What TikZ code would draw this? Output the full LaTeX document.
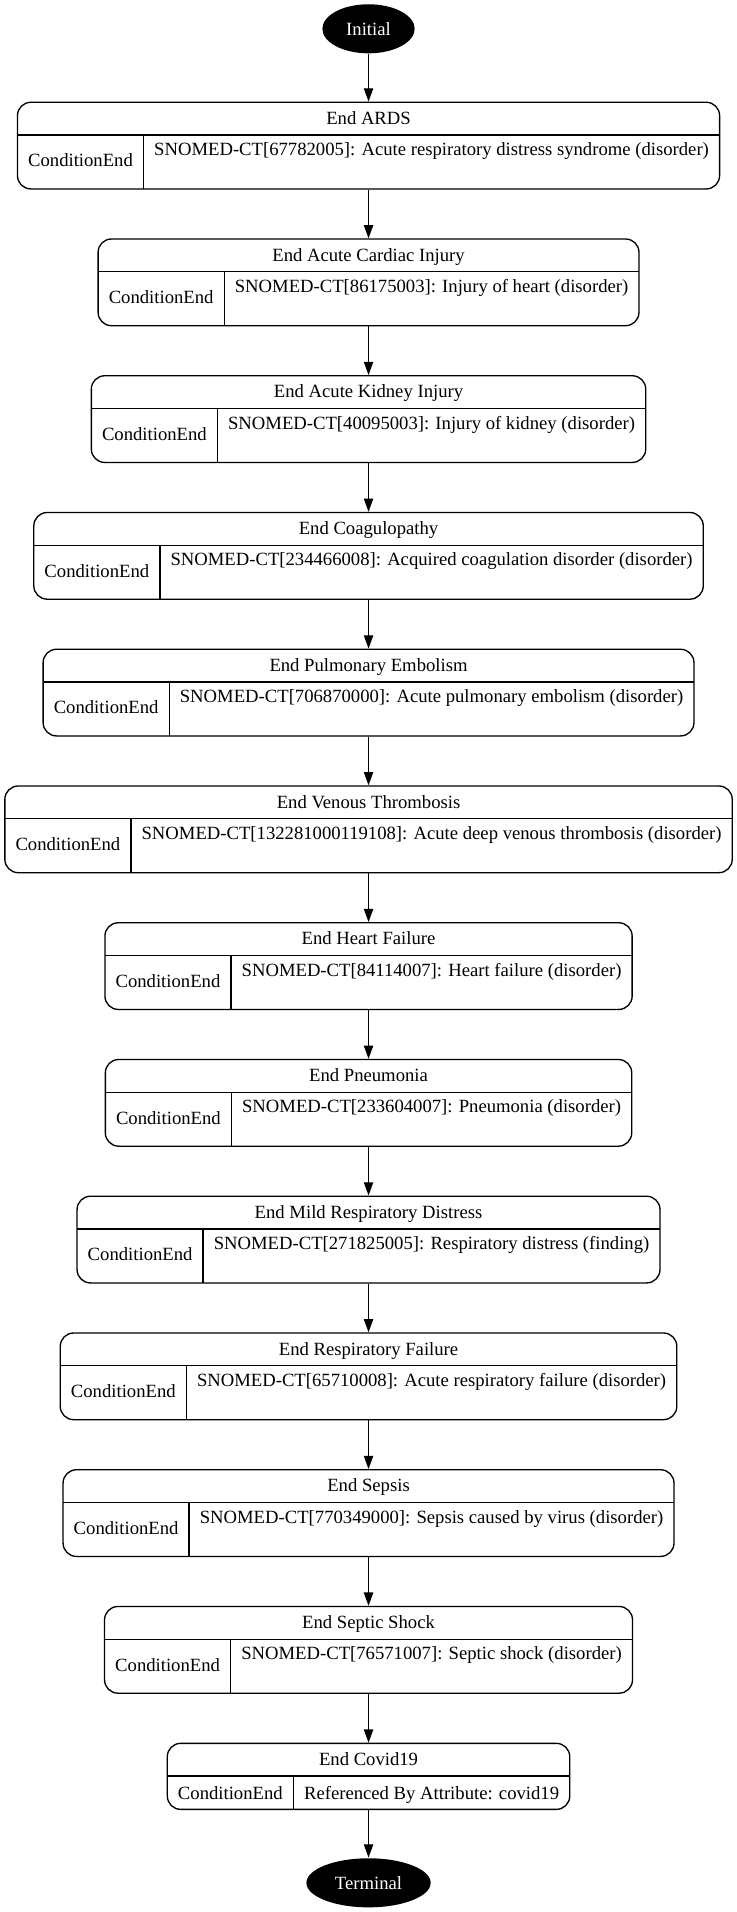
\documentclass[tikz,border=0pt]{standalone}
\usepackage{fontspec}
\setmainfont{Liberation Serif}
\usetikzlibrary{shapes.geometric, arrows.meta, positioning, fit, matrix}

\begin{document}
\begin{tikzpicture}[x=1pt, y=1pt, line width=1pt,
    font=\fontsize{14}{16.8}\selectfont,
    pseudo/.style={ellipse, fill=black, text=white, minimum height=36.8pt, inner sep=0pt},
    hdr/.style={anchor=south, outer sep=0pt, inner xsep=8pt, inner ysep=0pt, text height=16.5pt, text depth=8pt},
    lcell/.style={anchor=center, outer sep=0pt, inner xsep=8pt, inner ysep=0pt, text height=24pt, text depth=16.5pt},
    rcell/.style={anchor=center, outer sep=0pt, inner xsep=8pt, inner ysep=0pt, text height=15.5pt, text depth=25pt},
    flat/.style={text height=17.5pt, text depth=7.5pt},
    cellrow/.style={anchor=north, inner sep=0pt, outer sep=0pt, column sep=0pt, ampersand replacement=\&},
    statebox/.style={draw, rounded corners=10pt, inner sep=0pt},
    flow/.style={-{Triangle[length=10pt, width=7pt]}}]
    \useasboundingbox (0,0) rectangle (552.75,-1434);

    \node[pseudo, minimum width=69.2pt] (s0) at (276.4,-21.6) {Initial};

    % condition end states
    \foreach \title/\code [count=\i, evaluate=\i as \y using 101.2+102.56*(\i-1)] in {
        End ARDS/SNOMED-CT[67782005]: Acute respiratory distress syndrome (disorder),
        End Acute Cardiac Injury/SNOMED-CT[86175003]: Injury of heart (disorder),
        End Acute Kidney Injury/SNOMED-CT[40095003]: Injury of kidney (disorder),
        End Coagulopathy/SNOMED-CT[234466008]: Acquired coagulation disorder (disorder),
        End Pulmonary Embolism/SNOMED-CT[706870000]: Acute pulmonary embolism (disorder),
        End Venous Thrombosis/SNOMED-CT[132281000119108]: Acute deep venous thrombosis (disorder),
        End Heart Failure/SNOMED-CT[84114007]: Heart failure (disorder),
        End Pneumonia/SNOMED-CT[233604007]: Pneumonia (disorder),
        End Mild Respiratory Distress/SNOMED-CT[271825005]: Respiratory distress (finding),
        End Respiratory Failure/SNOMED-CT[65710008]: Acute respiratory failure (disorder),
        End Sepsis/SNOMED-CT[770349000]: Sepsis caused by virus (disorder),
        End Septic Shock/SNOMED-CT[76571007]: Septic shock (disorder)} {
        \matrix[cellrow] (m\i) at (276.4,-\y) {
            \node[lcell] (l\i) {ConditionEnd}; \& \node[rcell] (r\i) {\code}; \\
        };
        \node[hdr] (h\i) at (m\i.north) {\title};
        \node[statebox, fit=(m\i)(h\i)] (s\i) {};
        \draw (m\i.north west) -- (m\i.north east);
        \draw (l\i.north east) -- (l\i.south east);
    }

    \matrix[cellrow] (m13) at (276.4,-1332) {
        \node[lcell, flat] (l13) {ConditionEnd}; \& \node[rcell, flat] (r13) {Referenced By Attribute: covid19}; \\
    };
    \node[hdr] (h13) at (m13.north) {End Covid19};
    \node[statebox, fit=(m13)(h13)] (s13) {};
    \draw (m13.north west) -- (m13.north east);
    \draw (l13.north east) -- (l13.south east);

    \node[pseudo, minimum width=93.2pt] (s14) at (276.4,-1412.1) {Terminal};

    \foreach \i [evaluate=\i as \j using int(\i+1)] in {0,...,13}
        \draw[flow] (s\i) -- (s\j);
\end{tikzpicture}
\end{document}
